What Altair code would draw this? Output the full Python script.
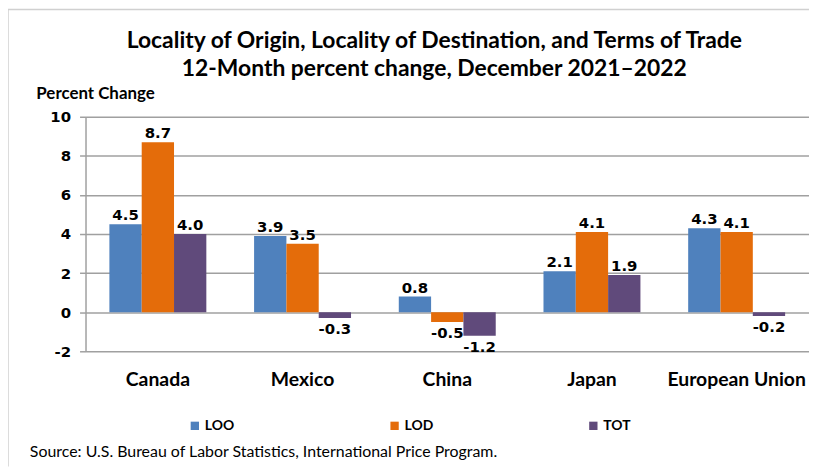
import altair as alt
import pandas as pd

countries = ["Canada", "Mexico", "China", "Japan", "European Union"]
series = ["LOO", "LOD", "TOT"]
loo = [4.5, 3.9, 0.8, 2.1, 4.3]
lod = [8.7, 3.5, -0.5, 4.1, 4.1]
tot = [4.0, -0.3, -1.2, 1.9, -0.2]
colors = ["#4F81BD", "#E46C0A", "#604A7B"]
y_ticks = [-2, 0, 2, 4, 6, 8, 10]
title_lines = ["Locality of Origin, Locality of Destination, and Terms of Trade",
               "12-Month percent change, December 2021\u20132022"]
y_title = "Percent Change"
source_note = "Source: U.S. Bureau of Labor Statistics, International Price Program."

rows = []
for s, vals in zip(series, [loo, lod, tot]):
    for c, v in zip(countries, vals):
        rows.append({"Country": c, "Series": s, "Value": v})
df = pd.DataFrame(rows)

W, H = 728, 236

x = alt.X("Country:N", sort=countries, title=None,
          scale=alt.Scale(paddingInner=0.33, paddingOuter=0.165),
          axis=alt.Axis(labelAngle=0, labelFont="Lato", labelFontSize=19.5,
                        labelFontWeight="bold", labelColor="#000000",
                        labelPadding=19, ticks=False, domain=False,
                        labelOverlap=False))
y = alt.Y("Value:Q", title=y_title,
          scale=alt.Scale(domain=[-2, 10], nice=False),
          axis=alt.Axis(values=y_ticks, labelOverlap=False,
                        labelExpr="'' + datum.value",
                        labelFont="DejaVu Sans", labelFontSize=15,
                        labelFontWeight="bold", labelColor="#000000",
                        labelPadding=9, tickSize=6, tickColor="#A0A0A0",
                        tickWidth=1.5, domainColor="#A0A0A0", domainWidth=1.5,
                        gridColor="#A0A0A0", gridWidth=1.5,
                        titleAngle=0, titleAlign="left", titleBaseline="middle",
                        titleX=-50, titleY=-23, titleFont="Lato",
                        titleFontSize=17, titleFontWeight="bold",
                        titleColor="#000000"))
xo = alt.XOffset("Series:N", sort=series)
color = alt.Color("Series:N", sort=series,
                  scale=alt.Scale(domain=series, range=colors),
                  legend=alt.Legend(title=None, orient="none", direction="horizontal",
                                    legendX=103, legendY=304, columns=3,
                                    columnPadding=154, symbolType="square",
                                    symbolSize=70, symbolStrokeWidth=0,
                                    labelFont="Lato", labelFontSize=14,
                                    labelFontWeight="bold", labelColor="#000000",
                                    labelOffset=3))

base = alt.Chart(df).transform_calculate(
    label="replace(format(datum.Value, '.1f'), '\u2212', '-')")
bars = base.mark_bar().encode(x=x, y=y, xOffset=xo, color=color)

lab_pos = base.transform_filter("datum.Value >= 0").mark_text(
    baseline="bottom", dy=-1, font="DejaVu Sans", fontSize=15,
    fontWeight="bold", color="#000000").encode(
    x=x, xOffset=xo, y=y, text="label:N")
lab_neg = base.transform_filter("datum.Value < 0").mark_text(
    baseline="top", dy=4, font="DejaVu Sans", fontSize=15,
    fontWeight="bold", color="#000000").encode(
    x=x, xOffset=xo, y=y, text="label:N")

title1 = alt.Chart(pd.DataFrame({"t": [title_lines[0]]})).mark_text(
    align="center", baseline="middle", font="Lato", fontSize=23,
    fontWeight="bold", color="#000000").encode(
    x=alt.value(351), y=alt.value(-76), text="t:N")
title2 = alt.Chart(pd.DataFrame({"t": [title_lines[1]]})).mark_text(
    align="center", baseline="middle", font="Lato", fontSize=23,
    fontWeight="bold", color="#000000").encode(
    x=alt.value(351), y=alt.value(-48), text="t:N")

src = alt.Chart(pd.DataFrame({"t": [source_note]})).mark_text(
    align="left", baseline="middle", font="Lato", fontSize=16,
    color="#000000").encode(x=alt.value(-56), y=alt.value(337), text="t:N")

border_l = alt.Chart(pd.DataFrame({"t": [0]})).mark_rule(
    color="#D0D0D0", strokeWidth=1.5).encode(
    x=alt.value(-78), y=alt.value(-108), y2=alt.value(352))
border_t = alt.Chart(pd.DataFrame({"t": [0]})).mark_rule(
    color="#D0D0D0", strokeWidth=1.5).encode(
    x=alt.value(-78), x2=alt.value(745), y=alt.value(-108))

chart = alt.layer(bars, lab_pos, lab_neg, title1, title2, src,
                  border_l, border_t).properties(
    width=W, height=H,
    autosize=alt.AutoSizeParams(type="none"),
    padding={"left": 78, "top": 108, "right": 0, "bottom": 116},
).configure_view(stroke=None).configure_axisX(grid=False)

chart.save("out.html", embed_options={"renderer": "svg", "actions": False})
